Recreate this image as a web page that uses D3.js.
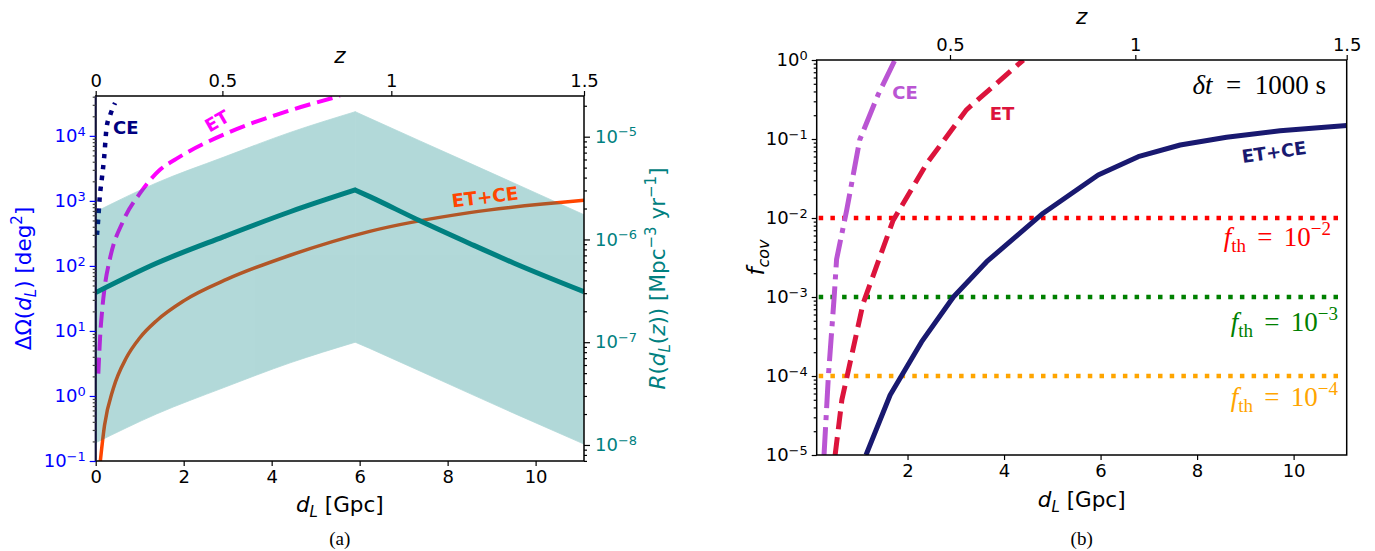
<!DOCTYPE html>
<html><head><meta charset="utf-8">
<script src="https://cdn.jsdelivr.net/npm/d3@7"></script>
<style>
body{margin:0;background:#fff}
svg{display:block}
text{font-family:"DejaVu Sans",sans-serif}
text.serif{font-family:"Liberation Serif","DejaVu Serif",serif}
</style>
</head><body>
<svg id="c" width="1375" height="551"></svg>
<script>
// ---------------- DATA ----------------
// shared redshift ticks (z) and their luminosity distance positions (Gpc)
const zTickLabels = ["0", "0.5", "1", "1.5"];
const zTickDL = [0, 2.88, 6.72, 11.1];
const dTicks = [0, 2, 4, 6, 8, 10];
const dTicksB = [2, 4, 6, 8, 10];

// Panel (a): sky localisation ΔΩ(d_L) [deg^2]
const ceA_d   = [0.03, 0.06, 0.09, 0.14, 0.19, 0.25, 0.33, 0.44];
const ceA_v   = [300, 550, 1100, 2200, 4500, 13800, 21000, 32000];
const etA_d   = [0.06, 0.10, 0.15, 0.20, 0.325, 0.63, 1.0, 1.46, 1.84, 3.05, 4.19, 5.55];
const etA_v   = [2.2, 8, 22, 45, 130, 500, 1290, 3000, 4460, 11500, 22000, 41000];
const etceA_d = [0.09, 0.2, 0.4, 0.7, 1.0, 1.39, 2.0, 3.0, 4.42, 6.23, 8.5, 11.1];
const etceA_v = [0.08, 0.35, 1.3, 3.9, 7.8, 14.5, 29, 63, 146, 340, 660, 1020];

// Panel (a): merger rate R(d_L(z)) [Mpc^-3 yr^-1] and its band (peak at index 4)
const rate_d  = [0, 1.38, 2.90, 4.42, 5.90, 6.23, 7.37, 8.51, 9.50, 11.1];
const rate_v  = [3.04e-7, 5.86e-7, 1.06e-6, 1.86e-6, 3.03e-6, 2.61e-6, 1.52e-6, 9.1e-7, 5.9e-7, 3.1e-7];
const rateHi  = [1.86e-6, 3.55e-6, 6.3e-6, 1.10e-5, 1.75e-5, 1.51e-5, 9.1e-6, 5.5e-6, 3.55e-6, 1.74e-6];
const rateLo  = [1.05e-8, 2.0e-8, 3.6e-8, 6.3e-8, 1.0e-7, 8.7e-8, 5.25e-8, 3.16e-8, 2.04e-8, 1.02e-8];

// Panel (b): covered fraction f_cov
const ceB_d   = [0.27, 0.36, 0.48, 0.53, 0.74, 1.01, 1.39, 1.74];
const ceB_v   = [1e-5, 1e-4, 1e-3, 3e-3, 0.0126, 0.098, 0.363, 1.0];
const etB_d   = [0.50, 0.64, 1.08, 1.70, 2.40, 3.22, 4.40];
const etB_v   = [1e-5, 5e-5, 8.3e-4, 9.3e-3, 0.049, 0.234, 1.0];
const etceB_d = [1.14, 1.64, 2.29, 2.95, 3.64, 4.81, 5.95, 6.78, 7.65, 8.61, 9.72, 11.1];
const etceB_v = [1e-5, 5.75e-5, 2.7e-4, 1e-3, 2.8e-3, 0.0115, 0.035, 0.0597, 0.084, 0.105, 0.127, 0.148];
const thresholds = [1e-2, 1e-3, 1e-4];
const thrExp = [-2, -3, -4];

// ---------------- DRAW ----------------
const svg = d3.select("#c");
const zip = (a, b) => a.map((x, i) => [x, b[i]]);
const minus = n => (n < 0 ? "\u2212" + (-n) : "" + n);
const TICK = 18, LAB = 21.5;

function supText(sel, exp) {
  sel.text(null);
  sel.append("tspan").text("10");
  sel.append("tspan").attr("dy", "-0.5em").attr("font-size", "0.72em").text(minus(exp));
}
function minorVals(lo, hi) {
  const out = [];
  for (let e = Math.floor(Math.log10(lo)); e <= Math.ceil(Math.log10(hi)); e++)
    for (let m = 2; m <= 9; m++) { const v = m * Math.pow(10, e); if (v >= lo && v <= hi) out.push(v); }
  return out;
}
function styleAxis(g, color, labelColor) {
  g.select(".domain").remove();
  g.selectAll("line").attr("stroke", color).attr("stroke-width", 1.2);
  g.selectAll("text").attr("fill", labelColor).attr("font-size", TICK);
}
function dLabel(x, y) {
  const t = svg.append("text").attr("x", x).attr("y", y).attr("text-anchor", "middle").attr("font-size", LAB);
  t.append("tspan").attr("font-style", "italic").text("d");
  t.append("tspan").attr("font-style", "italic").attr("font-size", LAB * 0.7).attr("dy", 5).text("L");
  t.append("tspan").attr("dy", -5).text(" [Gpc]");
}

// ===== Panel (a) =====
const A = {l: 95.7, r: 584, t: 96, b: 461};
const xA = d3.scaleLinear([0, 11.1], [A.l, A.r]);
const yA = d3.scaleLog([0.1, 4.1e4], [A.b, A.t]);
const yR = d3.scaleLog([Math.pow(10, -8.156), Math.pow(10, -4.604)], [A.b, A.t]);

svg.append("clipPath").attr("id", "clipA").append("rect")
  .attr("x", A.l).attr("y", A.t).attr("width", A.r - A.l).attr("height", A.b - A.t);
const gA = svg.append("g").attr("clip-path", "url(#clipA)");

const lineA = d3.line().x(d => xA(d[0])).y(d => yA(d[1])).curve(d3.curveMonotoneX);
gA.append("path").attr("d", lineA(zip(ceA_d, ceA_v))).attr("fill", "none")
  .attr("stroke", "#000080").attr("stroke-width", 4.5).attr("stroke-dasharray", "4.5,6.5");
gA.append("path").attr("d", lineA(zip(etA_d, etA_v))).attr("fill", "none")
  .attr("stroke", "#ff00ff").attr("stroke-width", 4).attr("stroke-dasharray", "16,7");
gA.append("path").attr("d", lineA(zip(etceA_d, etceA_v))).attr("fill", "none")
  .attr("stroke", "#ff4500").attr("stroke-width", 3.5);

// rate band (translucent, drawn over the left-axis curves): smooth rising part, straight falling part
const PK = 4;
const idxRise = d3.range(0, PK + 1), idxFall = d3.range(PK, rate_d.length);
const gBand = gA.append("g").attr("opacity", 0.3);
const areaRise = d3.area().x(i => xA(rate_d[i])).y0(i => yR(rateLo[i])).y1(i => yR(rateHi[i])).curve(d3.curveMonotoneX);
const areaFall = d3.area().x(i => xA(rate_d[i])).y0(i => yR(rateLo[i])).y1(i => yR(rateHi[i]));
gBand.append("path").attr("d", areaRise(idxRise)).attr("fill", "#008080").attr("stroke", "#008080").attr("stroke-width", 0.8);
gBand.append("path").attr("d", areaFall(idxFall)).attr("fill", "#008080").attr("stroke", "#008080").attr("stroke-width", 0.8);
const lineRise = d3.line().x(i => xA(rate_d[i])).y(i => yR(rate_v[i])).curve(d3.curveMonotoneX);
const lineFall = d3.line().x(i => xA(rate_d[i])).y(i => yR(rate_v[i])).curve(d3.curveMonotoneX);
const pRate = lineRise(idxRise) + lineFall(idxFall).replace(/^M/, "L");
gA.append("path").attr("d", pRate)
  .attr("fill", "none").attr("stroke", "#008080").attr("stroke-width", 5).attr("stroke-linejoin", "miter");

// frame (a)
svg.append("rect").attr("x", A.l).attr("y", A.t).attr("width", A.r - A.l).attr("height", A.b - A.t)
  .attr("fill", "none").attr("stroke", "#000").attr("stroke-width", 1.5);
svg.append("line").attr("x1", A.l).attr("x2", A.l).attr("y1", A.t).attr("y2", A.b)
  .attr("stroke", "#10103a").attr("stroke-width", 2);

// axes (a)
styleAxis(svg.append("g").attr("transform", `translate(0,${A.b})`)
  .call(d3.axisBottom(xA).tickValues(dTicks).tickFormat(d3.format("d")).tickSize(5).tickPadding(4)), "#000", "#000");
styleAxis(svg.append("g").attr("transform", `translate(0,${A.t})`)
  .call(d3.axisTop(xA).tickValues(zTickDL).tickFormat((d, i) => zTickLabels[i]).tickSize(5).tickPadding(4)), "#000", "#000");
const majA = [0.1, 1, 10, 100, 1000, 10000];
styleAxis(svg.append("g").attr("transform", `translate(${A.l},0)`)
  .call(d3.axisLeft(yA).tickValues(minorVals(0.1, 4.1e4)).tickFormat("").tickSize(3)), "#444", "#000");
const axL = svg.append("g").attr("transform", `translate(${A.l},0)`)
  .call(d3.axisLeft(yA).tickValues(majA).tickSize(6).tickPadding(4));
styleAxis(axL, "#0000ff", "#0000ff");
axL.selectAll("text").each(function (d) { supText(d3.select(this), Math.round(Math.log10(d))); });
const majR = [1e-8, 1e-7, 1e-6, 1e-5];
styleAxis(svg.append("g").attr("transform", `translate(${A.r},0)`)
  .call(d3.axisRight(yR).tickValues(minorVals(yR.domain()[0], yR.domain()[1])).tickFormat("").tickSize(3)), "#000", "#000");
const axRR = svg.append("g").attr("transform", `translate(${A.r},0)`)
  .call(d3.axisRight(yR).tickValues(majR).tickSize(6).tickPadding(5));
styleAxis(axRR, "#000", "#008080");
axRR.selectAll("text").each(function (d) { supText(d3.select(this), Math.round(Math.log10(d))); });

// labels (a)
svg.append("text").attr("x", (A.l + A.r) / 2).attr("y", 63).attr("text-anchor", "middle")
  .attr("font-size", LAB).attr("font-style", "italic").text("z");
dLabel((A.l + A.r) / 2, 512);

const ylA = svg.append("text").attr("transform", `translate(31,${(A.t + A.b) / 2}) rotate(-90)`)
  .attr("text-anchor", "middle").attr("font-size", LAB).attr("fill", "#0000ff");
ylA.append("tspan").text("\u0394\u03A9(");
ylA.append("tspan").attr("font-style", "italic").text("d");
ylA.append("tspan").attr("font-style", "italic").attr("font-size", 15).attr("dy", 5).text("L");
ylA.append("tspan").attr("dy", -5).text(") [deg");
ylA.append("tspan").attr("font-size", 15).attr("dy", -9).text("2");
ylA.append("tspan").attr("dy", 9).text("]");

const yrA = svg.append("text").attr("transform", `translate(665,${(A.t + A.b) / 2}) rotate(-90)`)
  .attr("text-anchor", "middle").attr("font-size", LAB).attr("fill", "#008080");
yrA.append("tspan").attr("font-style", "italic").text("R");
yrA.append("tspan").text("(");
yrA.append("tspan").attr("font-style", "italic").text("d");
yrA.append("tspan").attr("font-style", "italic").attr("font-size", 15).attr("dy", 5).text("L");
yrA.append("tspan").attr("dy", -5).text("(");
yrA.append("tspan").attr("font-style", "italic").text("z");
yrA.append("tspan").text(")) [Mpc");
yrA.append("tspan").attr("font-size", 15).attr("dy", -9).text("\u22123");
yrA.append("tspan").attr("dy", 9).text(" yr");
yrA.append("tspan").attr("font-size", 15).attr("dy", -9).text("\u22121");
yrA.append("tspan").attr("dy", 9).text("]");

svg.append("text").attr("x", 113).attr("y", 134).attr("font-size", 18).attr("font-weight", "bold")
  .attr("fill", "#000080").text("CE");
svg.append("text").attr("transform", "translate(217,121) rotate(-30)").attr("text-anchor", "middle")
  .attr("dominant-baseline", "central").attr("font-size", 18).attr("font-weight", "bold").attr("fill", "#ff00ff").text("ET");
svg.append("text").attr("transform", "translate(485,197) rotate(-7)").attr("text-anchor", "middle")
  .attr("dominant-baseline", "central").attr("font-size", 18.5).attr("font-weight", "bold").attr("fill", "#ff4500").text("ET+CE");
svg.append("text").attr("class", "serif").attr("x", (A.l + A.r) / 2).attr("y", 545).attr("text-anchor", "middle")
  .attr("font-size", 19).text("(a)");

// ===== Panel (b) =====
const B = {l: 816.7, r: 1346.7, t: 60, b: 455};
const xB = d3.scaleLinear([0.118, 11.1], [B.l, B.r]);
const yB = d3.scaleLog([1e-5, 1], [B.b, B.t]);
svg.append("clipPath").attr("id", "clipB").append("rect")
  .attr("x", B.l).attr("y", B.t).attr("width", B.r - B.l).attr("height", B.b - B.t);
const gB = svg.append("g").attr("clip-path", "url(#clipB)");

const thrColors = ["#ff0000", "#008000", "#ffa500"];
thresholds.forEach((t, i) => {
  gB.append("line").attr("x1", B.l + 2).attr("x2", B.r - 4).attr("y1", yB(t)).attr("y2", yB(t))
    .attr("stroke", thrColors[i]).attr("stroke-width", 4.5).attr("stroke-dasharray", "4.5,7.2");
});
const lineB = d3.line().x(d => xB(d[0])).y(d => yB(d[1]));
gB.append("path").attr("d", lineB(zip(ceB_d, ceB_v))).attr("fill", "none")
  .attr("stroke", "#ba55d3").attr("stroke-width", 5).attr("stroke-dasharray", "28,7,5,7");
gB.append("path").attr("d", lineB(zip(etB_d, etB_v))).attr("fill", "none")
  .attr("stroke", "#dc143c").attr("stroke-width", 5).attr("stroke-dasharray", "18,8");
gB.append("path").attr("d", lineB(zip(etceB_d, etceB_v))).attr("fill", "none")
  .attr("stroke", "#191970").attr("stroke-width", 5).attr("stroke-linejoin", "round");

svg.append("rect").attr("x", B.l).attr("y", B.t).attr("width", B.r - B.l).attr("height", B.b - B.t)
  .attr("fill", "none").attr("stroke", "#000").attr("stroke-width", 1.5);

styleAxis(svg.append("g").attr("transform", `translate(0,${B.b})`)
  .call(d3.axisBottom(xB).tickValues(dTicksB).tickFormat(d3.format("d")).tickSize(5).tickPadding(4)), "#000", "#000");
styleAxis(svg.append("g").attr("transform", `translate(0,${B.t})`)
  .call(d3.axisTop(xB).tickValues(zTickDL.slice(1)).tickFormat((d, i) => zTickLabels[i + 1]).tickSize(5).tickPadding(4)), "#000", "#000");
styleAxis(svg.append("g").attr("transform", `translate(${B.l},0)`)
  .call(d3.axisLeft(yB).tickValues(minorVals(1e-5, 1)).tickFormat("").tickSize(3)), "#000", "#000");
const axBL = svg.append("g").attr("transform", `translate(${B.l},0)`)
  .call(d3.axisLeft(yB).tickValues([1e-5, 1e-4, 1e-3, 1e-2, 1e-1, 1]).tickSize(5).tickPadding(4));
styleAxis(axBL, "#000", "#000");
axBL.selectAll("text").each(function (d) { supText(d3.select(this), Math.round(Math.log10(d))); });

svg.append("text").attr("x", (B.l + B.r) / 2).attr("y", 24).attr("text-anchor", "middle")
  .attr("font-size", LAB).attr("font-style", "italic").text("z");
dLabel((B.l + B.r) / 2, 507);
const ylB = svg.append("text").attr("transform", `translate(764,${(B.t + B.b) / 2}) rotate(-90)`)
  .attr("text-anchor", "middle").attr("font-size", 23);
ylB.append("tspan").attr("font-style", "italic").text("f");
ylB.append("tspan").attr("font-style", "italic").attr("font-size", 16).attr("dy", 5).text("cov");

svg.append("text").attr("x", 905).attr("y", 99).attr("text-anchor", "middle").attr("font-size", 18)
  .attr("font-weight", "bold").attr("fill", "#ba55d3").text("CE");
svg.append("text").attr("x", 1002).attr("y", 120).attr("text-anchor", "middle").attr("font-size", 18)
  .attr("font-weight", "bold").attr("fill", "#dc143c").text("ET");
svg.append("text").attr("transform", "translate(1274,152) rotate(-8)").attr("text-anchor", "middle")
  .attr("dominant-baseline", "central").attr("font-size", 18).attr("font-weight", "bold").attr("fill", "#191970").text("ET+CE");

const dt = svg.append("text").attr("class", "serif").attr("x", 1326).attr("y", 94).attr("text-anchor", "end")
  .attr("font-size", 27);
dt.append("tspan").attr("font-style", "italic").text("\u03B4t");
dt.append("tspan").text("\u2002=\u20021000 s");

const thrY = [246, 331, 406];
const thrX = [1331, 1338, 1338];
thresholds.forEach((t, i) => {
  const tx = svg.append("text").attr("class", "serif").attr("x", thrX[i]).attr("y", thrY[i]).attr("text-anchor", "end")
    .attr("font-size", 27).attr("fill", thrColors[i]);
  tx.append("tspan").attr("font-style", "italic").text("f");
  tx.append("tspan").attr("font-size", 19).attr("dy", 6).text("th");
  tx.append("tspan").attr("dy", -6).text("\u2004\u200A=\u2004\u200A10");
  tx.append("tspan").attr("font-size", 19).attr("dy", -11).text(minus(thrExp[i]));
});
svg.append("text").attr("class", "serif").attr("x", (B.l + B.r) / 2).attr("y", 545).attr("text-anchor", "middle")
  .attr("font-size", 19).text("(b)");
</script>
</body></html>
